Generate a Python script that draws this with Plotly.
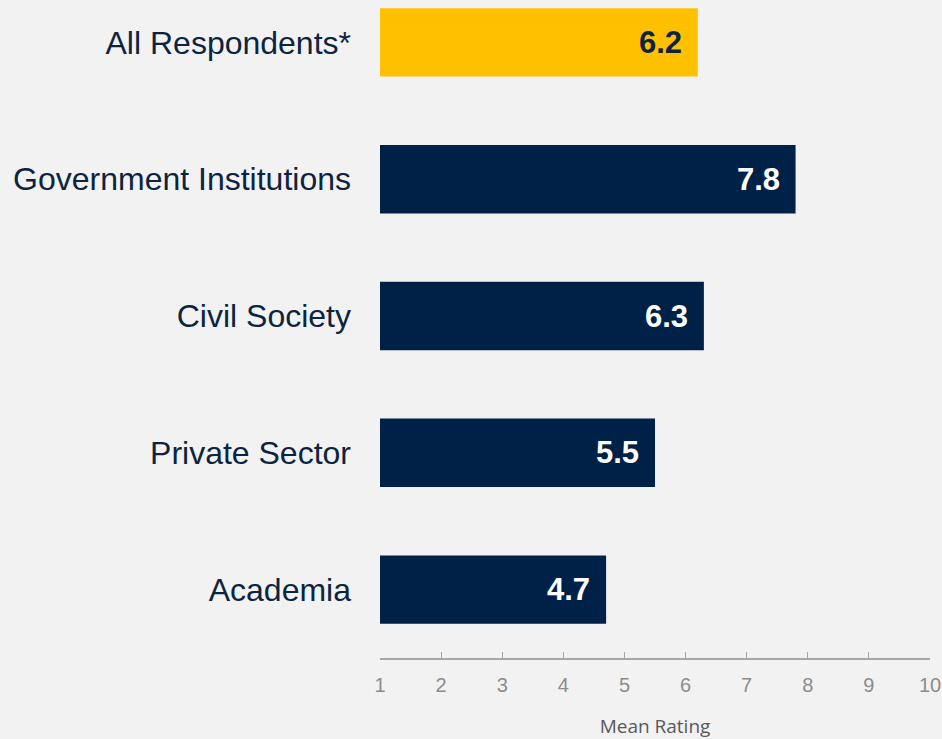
import plotly.graph_objects as go

categories = ["All Respondents*", "Government Institutions", "Civil Society", "Private Sector", "Academia"]
values = [6.2, 7.8, 6.3, 5.5, 4.7]
bar_colors = ["#FFC000", "#002147", "#002147", "#002147", "#002147"]
label_colors = ["#0D2440", "white", "white", "white", "white"]
x_ticks = list(range(1, 11))

BG = "#F2F2F2"
NAVY = "#0D2440"

fig = go.Figure()
fig.add_trace(go.Bar(
    y=categories,
    x=[v - 1 for v in values],
    base=1,
    orientation="h",
    marker=dict(color=bar_colors, line=dict(width=0)),
    width=0.5,
    hoverinfo="skip",
))

for c, v, col in zip(categories, values, label_colors):
    fig.add_annotation(
        x=v, y=c, text=f"<b>{v:.1f}</b>", showarrow=False,
        xanchor="right", xshift=-14, yshift=0,
        font=dict(family="Liberation Sans, Arial", size=31, color=col),
    )

fig.update_layout(
    width=942, height=739,
    margin=dict(l=380, r=12, t=0, b=81),
    paper_bgcolor=BG, plot_bgcolor=BG,
    showlegend=False,
    xaxis=dict(
        range=[1, 10], tickvals=x_ticks, ticktext=[str(t) for t in x_ticks],
        showgrid=False, zeroline=False,
        showline=True, linecolor="#A6A6A6", linewidth=2,
        ticks="inside", ticklen=6, tickcolor="#A6A6A6", tickwidth=1,
        ticklabelstandoff=8,
        tickfont=dict(family="Liberation Sans, Arial", size=20, color="#8C8C8C"),
        title=dict(text="Mean Rating", standoff=30,
                   font=dict(family="Open Sans, Noto Sans", size=19, color="#595959")),
    ),
    yaxis=dict(
        type="category", categoryorder="array", categoryarray=categories,
        range=[4.5, -0.31],
        showgrid=False, zeroline=False, showline=False, ticks="",
        ticklabelstandoff=28,
        tickfont=dict(family="Liberation Sans, Arial", size=32, color=NAVY),
    ),
)

fig.write_html(
    "out.html",
    config={"displayModeBar": False},
    post_script="document.body.style.margin='0';document.body.style.background='#F2F2F2';",
)
